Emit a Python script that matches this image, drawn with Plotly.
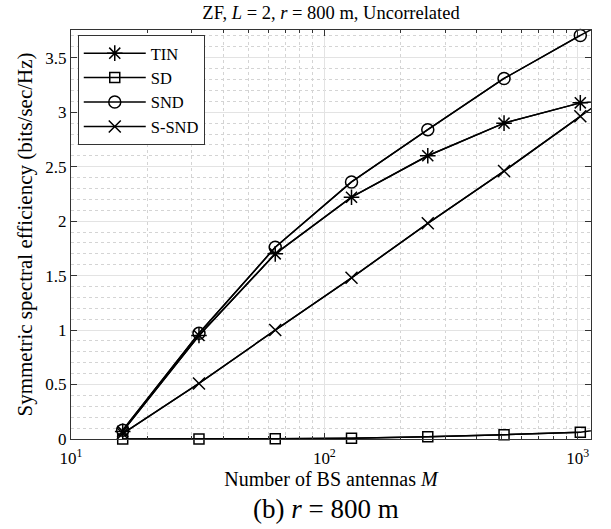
import plotly.graph_objects as go

# Number of BS antennas
M = [16, 32, 64, 128, 256, 512, 1024, 2048]

# Symmetric spectral efficiency (bits/sec/Hz) per scheme
tin = [0.07, 0.95, 1.70, 2.22, 2.60, 2.90, 3.086, 3.15]
sd = [0.0, 0.0, 0.002, 0.008, 0.02, 0.04, 0.063, 0.15]
snd = [0.08, 0.97, 1.76, 2.36, 2.84, 3.31, 3.705, 4.08]
s_snd = [0.05, 0.51, 1.00, 1.48, 1.98, 2.46, 2.963, 3.46]

series = [
    ("TIN", tin, "asterisk-open", 13),
    ("SD", sd, "square-open", 10),
    ("SND", snd, "circle-open", 12),
    ("S-SND", s_snd, "x-thin-open", 12),
]

FONT = "Liberation Serif, DejaVu Serif, serif"
N_SHOWN = 7  # points inside the axis range get markers

fig = go.Figure()
for name, vals, sym, size in series:
    # full line (continues past the right edge and is clipped there)
    fig.add_trace(go.Scatter(
        x=M, y=vals, mode="lines", showlegend=False, hoverinfo="skip",
        line=dict(color="black", width=1.5),
    ))
    fig.add_trace(go.Scatter(
        x=M[:N_SHOWN], y=vals[:N_SHOWN], mode="lines+markers", name=name,
        line=dict(color="black", width=1.5),
        marker=dict(symbol=sym, size=size, color="black",
                    line=dict(color="black", width=1.5)),
        cliponaxis=False,
    ))

minor_x = [v * d for d in (10, 100) for v in range(2, 10)]

fig.update_layout(
    width=611, height=529,
    margin=dict(l=71, r=20, t=30, b=90),
    paper_bgcolor="white", plot_bgcolor="white",
    font=dict(family=FONT, size=17, color="black"),
    title=dict(text="ZF, <i>L</i> = 2, <i>r</i> = 800 m, Uncorrelated",
               x=331 / 611, xanchor="center", y=1 - 13 / 529, yanchor="middle",
               font=dict(family=FONT, size=18.5, color="black")),
    legend=dict(x=0.013, y=0.988, xanchor="left", yanchor="top",
                bgcolor="white", bordercolor="#333", borderwidth=1,
                font=dict(family=FONT, size=16.5, color="black"),
                tracegroupgap=0, itemwidth=62),
    showlegend=True,
)

fig.update_xaxes(
    type="log", range=[1, 3.0525],
    tickvals=[10, 100, 1000],
    ticktext=["10<sup>1</sup>", "10<sup>2</sup>", "10<sup>3</sup>"],
    ticks="inside", ticklen=6, tickcolor="#333", tickwidth=1,
    showline=True, linecolor="#333", linewidth=1, mirror="allticks",
    showgrid=True, gridcolor="#e3e3e3", gridwidth=1,
    zeroline=False, ticklabelstandoff=4,
    minor=dict(tickvals=minor_x, ticks="inside", ticklen=3, tickcolor="#333",
               showgrid=True, gridcolor="#d4d4d4", griddash="dot", gridwidth=1),
    title=dict(text="Number of BS antennas <i>M</i>",
               font=dict(family=FONT, size=20, color="black"), standoff=3),
    tickfont=dict(family=FONT, size=17, color="black"),
)

fig.update_yaxes(
    range=[0, 3.755],
    tickvals=[0, 0.5, 1, 1.5, 2, 2.5, 3, 3.5],
    ticktext=["0", "0.5", "1", "1.5", "2", "2.5", "3", "3.5"],
    ticks="inside", ticklen=6, tickcolor="#333", tickwidth=1,
    showline=True, linecolor="#333", linewidth=1, mirror="allticks",
    showgrid=True, gridcolor="#e3e3e3", gridwidth=1,
    zeroline=False,
    minor=dict(dtick=0.1, ticks="", showgrid=True, gridcolor="#d4d4d4",
               griddash="dot", gridwidth=1),
    title=dict(text="Symmetric spectral efficiency (bits/sec/Hz)",
               font=dict(family=FONT, size=21, color="black"), standoff=6),
    tickfont=dict(family=FONT, size=17, color="black"),
)

fig.add_annotation(
    text="(b) <i>r</i> = 800 m", xref="paper", yref="paper",
    x=0.49, y=-0.172, xanchor="center", yanchor="middle", showarrow=False,
    font=dict(family=FONT, size=27, color="black"),
)

fig.write_html("out.html")
